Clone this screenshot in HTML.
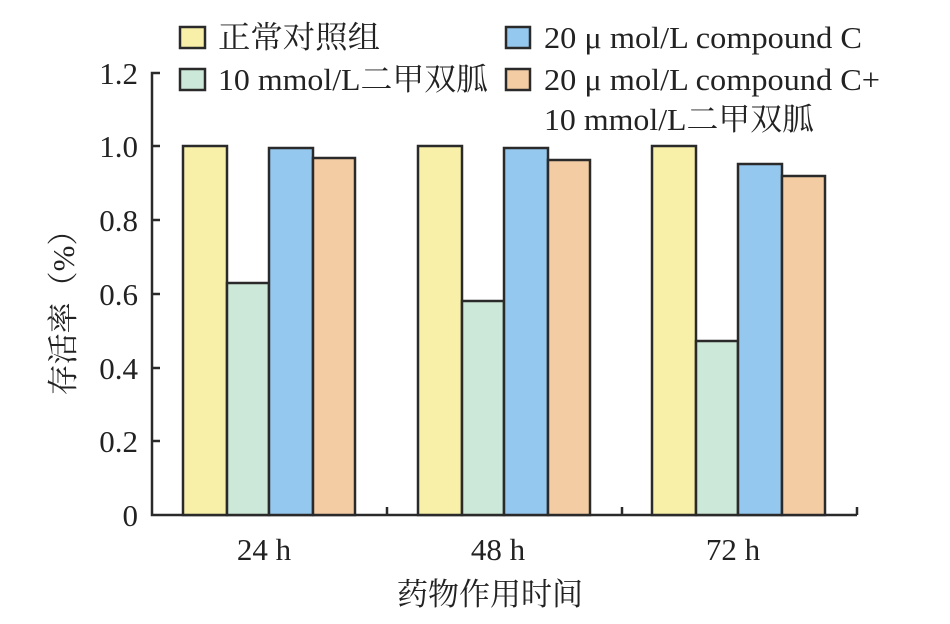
<!DOCTYPE html>
<html><head><meta charset="utf-8"><style>
html,body{margin:0;padding:0;background:#fff;}
svg text{font-family:"Liberation Serif","Noto Serif CJK SC",serif;fill:#222;}
</style></head><body>
<svg width="950" height="619" viewBox="0 0 950 619" xmlns="http://www.w3.org/2000/svg">
<g stroke="#2a2a2a" stroke-width="2.5">
<rect x="180" y="27" width="25" height="21" fill="#f8f0a8"/>
<rect x="180" y="69" width="25" height="21" fill="#cce8d8"/>
<rect x="506" y="27" width="24" height="21" fill="#94c8ee"/>
<rect x="506" y="69" width="24" height="21" fill="#f4cca4"/>
</g>
<g font-size="31">
<text x="218" y="48" textLength="162" lengthAdjust="spacingAndGlyphs">正常对照组</text>
<text x="218" y="90" textLength="270" lengthAdjust="spacingAndGlyphs">10 mmol/L二甲双胍</text>
<text x="544" y="48" textLength="318" lengthAdjust="spacingAndGlyphs">20 μ mol/L compound C</text>
<text x="544" y="90" textLength="336" lengthAdjust="spacingAndGlyphs">20 μ mol/L compound C+</text>
<text x="544" y="130" textLength="270" lengthAdjust="spacingAndGlyphs">10 mmol/L二甲双胍</text>
</g>
<g stroke="#2a2a2a" stroke-width="2.5" fill="none">
<polyline points="160,73 152,73 152,515 857,515"/>
<line x1="152" y1="146" x2="160" y2="146"/>
<line x1="152" y1="220" x2="160" y2="220"/>
<line x1="152" y1="294" x2="160" y2="294"/>
<line x1="152" y1="368" x2="160" y2="368"/>
<line x1="152" y1="441" x2="160" y2="441"/>
<line x1="387" y1="515" x2="387" y2="507"/>
<line x1="622" y1="515" x2="622" y2="507"/>
<line x1="857" y1="515" x2="857" y2="507"/>
</g>
<g stroke="#2a2a2a" stroke-width="2.5">
<rect x="183" y="146" width="44" height="369" fill="#f8f0a8"/>
<rect x="227" y="283" width="42" height="232" fill="#cce8d8"/>
<rect x="269" y="148" width="44" height="367" fill="#94c8ee"/>
<rect x="313" y="158" width="42" height="357" fill="#f4cca4"/>
<rect x="418" y="146" width="44" height="369" fill="#f8f0a8"/>
<rect x="462" y="301" width="42" height="214" fill="#cce8d8"/>
<rect x="504" y="148" width="44" height="367" fill="#94c8ee"/>
<rect x="548" y="160" width="42" height="355" fill="#f4cca4"/>
<rect x="652" y="146" width="44" height="369" fill="#f8f0a8"/>
<rect x="696" y="341" width="42" height="174" fill="#cce8d8"/>
<rect x="738" y="164" width="44" height="351" fill="#94c8ee"/>
<rect x="782" y="176" width="43" height="339" fill="#f4cca4"/>
</g>
<g font-size="31" text-anchor="end">
<text x="138" y="84">1.2</text>
<text x="138" y="157">1.0</text>
<text x="138" y="231">0.8</text>
<text x="138" y="305">0.6</text>
<text x="138" y="379">0.4</text>
<text x="138" y="452">0.2</text>
<text x="138" y="526">0</text>
</g>
<g font-size="31" text-anchor="middle">
<text x="264" y="560">24 h</text>
<text x="498" y="560">48 h</text>
<text x="733" y="560">72 h</text>
<text x="490" y="605">药物作用时间</text>
<text transform="translate(74,305) rotate(-90)">存活率（%）</text>
</g>
</svg>
</body></html>
